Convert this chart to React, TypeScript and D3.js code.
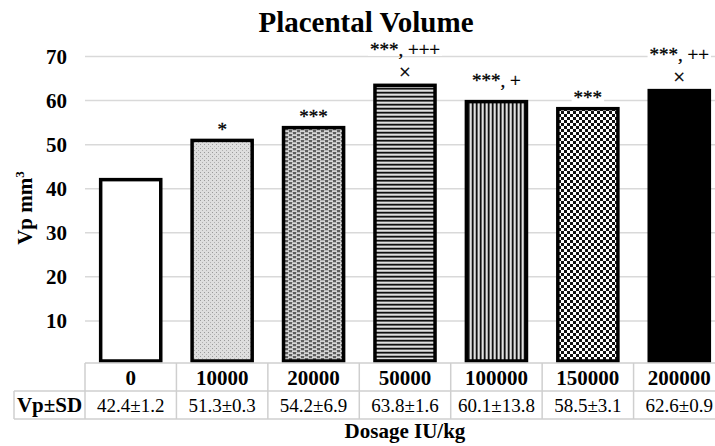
import React, { useRef, useEffect } from 'react';
import * as d3 from 'd3';

// chart data
const categories = ['0', '10000', '20000', '50000', '100000', '150000', '200000'];
const meanValues = [42.4, 51.3, 54.2, 63.8, 60.1, 58.5, 62.6];
const sdValues = [1.2, 0.3, 6.9, 1.6, 13.8, 3.1, 0.9];
const sigLabels = ['', '*', '***', '***, +++', '***, +', '***', '***, ++'];
const crossMarks = ['', '', '', '×', '', '', '×'];
const yTicks = [10, 20, 30, 40, 50, 60, 70];
const fills = ['white', 'dots', 'brick', 'hlines', 'vlines', 'checker', 'black'];

const serif = '"Liberation Serif", "Times New Roman", serif';

const App = () => {
  const svgRef = useRef<SVGSVGElement | null>(null);

  useEffect(() => {
    const svg = d3.select(svgRef.current);
    svg.selectAll('*').remove();

    const width = 715;
    const height = 446;
    const left = 85;
    const right = 725;
    const tableTop = 363;
    const rowH = 28;
    const tableLeft = 14;

    const x = d3.scaleBand<string>()
      .domain(categories)
      .range([left, right])
      .paddingInner(0.31)
      .paddingOuter(0.155);

    const y = d3.scaleLinear().domain([0, 70]).range([365, 56.5]);

    svg.attr('width', width).attr('height', height);

    // patterns
    const defs = svg.append('defs');
    const pat = (id: string, w: number, h: number) =>
      defs.append('pattern')
        .attr('id', id)
        .attr('patternUnits', 'userSpaceOnUse')
        .attr('width', w)
        .attr('height', h);

    const dots = pat('dots', 4, 4);
    dots.append('rect').attr('width', 4).attr('height', 4).attr('fill', '#dedede');
    dots.append('rect').attr('x', 0).attr('y', 0).attr('width', 1).attr('height', 1).attr('fill', '#9a9a9a');
    dots.append('rect').attr('x', 2).attr('y', 2).attr('width', 1).attr('height', 1).attr('fill', '#b0b0b0');

    const brick = pat('brick', 8, 4);
    brick.append('rect').attr('width', 8).attr('height', 4).attr('fill', '#5e5e5e');
    brick.append('rect').attr('x', 0).attr('y', 0.4).attr('width', 5).attr('height', 1.4).attr('fill', '#f4f4f4');
    brick.append('rect').attr('x', 4).attr('y', 2.4).attr('width', 5).attr('height', 1.4).attr('fill', '#f4f4f4');
    brick.append('rect').attr('x', -4).attr('y', 2.4).attr('width', 5).attr('height', 1.4).attr('fill', '#f4f4f4');

    const hl = pat('hlines', 8, 4);
    hl.append('rect').attr('width', 8).attr('height', 4).attr('fill', '#9c9c9c');
    hl.append('rect').attr('y', 0).attr('width', 8).attr('height', 1.4).attr('fill', '#111');
    hl.append('rect').attr('y', 2.2).attr('width', 8).attr('height', 1).attr('fill', '#f2f2f2');

    const vl = pat('vlines', 4, 8);
    vl.append('rect').attr('width', 4).attr('height', 8).attr('fill', '#9c9c9c');
    vl.append('rect').attr('x', 0).attr('width', 1.4).attr('height', 8).attr('fill', '#111');
    vl.append('rect').attr('x', 2.2).attr('width', 1).attr('height', 8).attr('fill', '#f2f2f2');

    const chk = pat('checker', 6, 6);
    chk.append('rect').attr('width', 6).attr('height', 6).attr('fill', '#fff');
    chk.append('rect').attr('width', 3).attr('height', 3).attr('fill', '#111');
    chk.append('rect').attr('x', 3).attr('y', 3).attr('width', 3).attr('height', 3).attr('fill', '#111');

    const fillFor = (f: string) => (f === 'white' ? '#fff' : f === 'black' ? '#000' : `url(#${f})`);

    // title
    svg.append('text')
      .attr('x', 366).attr('y', 32)
      .attr('text-anchor', 'middle')
      .attr('font-family', serif).attr('font-weight', 'bold').attr('font-size', 29)
      .text('Placental Volume');

    // gridlines
    svg.append('g').selectAll('line').data(yTicks).join('line')
      .attr('x1', left).attr('x2', right)
      .attr('y1', d => y(d)).attr('y2', d => y(d))
      .attr('stroke', '#d9d9d9').attr('stroke-width', 1.5);

    // y tick labels
    svg.append('g').selectAll('text').data(yTicks).join('text')
      .attr('x', 67).attr('y', d => y(d) + 7)
      .attr('text-anchor', 'end')
      .attr('font-family', serif).attr('font-weight', 'bold').attr('font-size', 21)
      .text(d => d);

    // y axis title
    const yt = svg.append('text')
      .attr('transform', 'translate(32,208) rotate(-90)')
      .attr('text-anchor', 'middle')
      .attr('font-family', serif).attr('font-weight', 'bold').attr('font-size', 21);
    yt.append('tspan').text('Vp mm');
    yt.append('tspan').attr('font-size', 13).attr('dy', -8).text('3');

    // bars
    svg.append('g').selectAll('rect').data(categories).join('rect')
      .attr('x', d => x(d)! + 1.5)
      .attr('width', x.bandwidth() - 3)
      .attr('y', (d, i) => y(meanValues[i]) + 1.5)
      .attr('height', (d, i) => 361 - y(meanValues[i]) - 1.5)
      .attr('fill', (d, i) => fillFor(fills[i]))
      .attr('stroke', '#000').attr('stroke-width', 3.5);

    // significance labels (white boxes first, then texts on top)
    const annBg = svg.append('g');
    const ann = svg.append('g');
    categories.forEach((c, i) => {
      const cx = x(c)! + x.bandwidth() / 2;
      const top = y(meanValues[i]);
      const hasCross = crossMarks[i] !== '';
      const hasPlus = sigLabels[i].includes('+');
      const items: { t: string; yy: number; fs: number }[] = [];
      if (sigLabels[i]) {
        const off = hasCross ? 28 : hasPlus ? 13 : 3;
        items.push({ t: sigLabels[i], yy: top - off, fs: 19 });
      }
      if (hasCross) items.push({ t: crossMarks[i], yy: top - 5, fs: 21 });
      items.forEach(it => {
        const t = ann.append('text')
          .attr('x', cx).attr('y', it.yy)
          .attr('text-anchor', 'middle')
          .attr('font-family', serif).attr('font-size', it.fs)
          .attr('stroke', '#000').attr('stroke-width', 0.3)
          .text(it.t);
        const bb = (t.node() as SVGTextElement).getBBox();
        annBg.append('rect').attr('fill', '#fff')
          .attr('x', bb.x - 2).attr('y', bb.y + 4)
          .attr('width', bb.width + 4).attr('height', bb.height - 8);
      });
    });

    // data table
    const tbl = svg.append('g').attr('stroke', '#cfcfcf').attr('stroke-width', 1.5);
    tbl.append('line').attr('x1', left).attr('x2', right).attr('y1', tableTop).attr('y2', tableTop);
    tbl.append('line').attr('x1', tableLeft).attr('x2', right).attr('y1', tableTop + rowH).attr('y2', tableTop + rowH);
    tbl.append('line').attr('x1', tableLeft).attr('x2', right).attr('y1', tableTop + 2 * rowH).attr('y2', tableTop + 2 * rowH);
    tbl.append('line').attr('x1', tableLeft).attr('x2', tableLeft).attr('y1', tableTop + rowH).attr('y2', tableTop + 2 * rowH);
    const step = x.step();
    tbl.selectAll('line.col').data(d3.range(categories.length + 1)).join('line')
      .attr('class', 'col')
      .attr('x1', i => left + i * step).attr('x2', i => left + i * step)
      .attr('y1', tableTop).attr('y2', tableTop + 2 * rowH);

    svg.append('g').selectAll('text').data(categories).join('text')
      .attr('x', d => x(d)! + x.bandwidth() / 2)
      .attr('y', tableTop + 22)
      .attr('text-anchor', 'middle')
      .attr('font-family', serif).attr('font-weight', 'bold').attr('font-size', 21)
      .text(d => d);

    svg.append('g').selectAll('text').data(categories).join('text')
      .attr('x', d => x(d)! + x.bandwidth() / 2)
      .attr('y', tableTop + rowH + 21)
      .attr('text-anchor', 'middle')
      .attr('font-family', serif).attr('font-size', 19)
      .text((d, i) => `${meanValues[i].toFixed(1)}±${sdValues[i].toFixed(1)}`);

    svg.append('text')
      .attr('x', (tableLeft + left) / 2).attr('y', tableTop + rowH + 21)
      .attr('text-anchor', 'middle')
      .attr('font-family', serif).attr('font-weight', 'bold').attr('font-size', 21)
      .text('Vp±SD');

    // x axis title
    svg.append('text')
      .attr('x', (left + right) / 2).attr('y', 438)
      .attr('text-anchor', 'middle')
      .attr('font-family', serif).attr('font-weight', 'bold').attr('font-size', 21)
      .text('Dosage IU/kg');
  }, []);

  return (
    <svg ref={svgRef} style={{ position: 'absolute', left: 0, top: 0, background: '#fff' }}></svg>
  );
};

export default App;
